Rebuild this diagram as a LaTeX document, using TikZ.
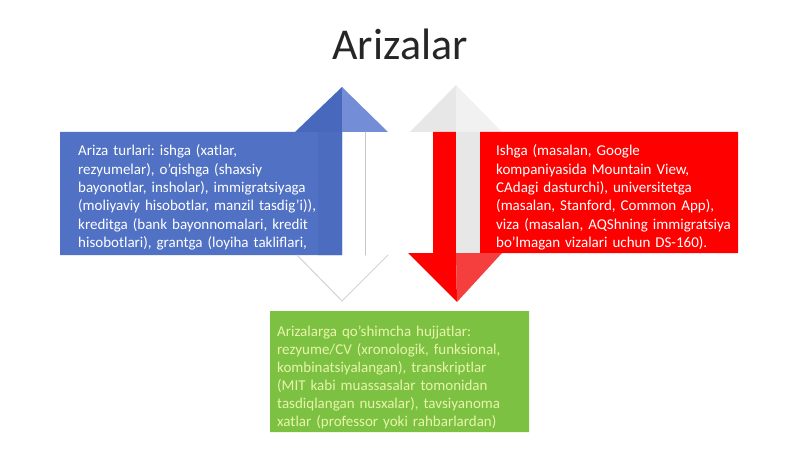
\documentclass[tikz,border=0pt]{standalone}
\usepackage{fontspec}
\setmainfont{Carlito}
\usepackage{tkz-euclide}
\frenchspacing

\definecolor{azul}{RGB}{80,113,196}
\definecolor{azulOsc}{RGB}{72,104,190}
\definecolor{azulBand}{RGB}{76,108,192}
\definecolor{azulCla}{RGB}{115,142,214}
\definecolor{rojo}{RGB}{255,0,0}
\definecolor{rojoCla}{RGB}{245,62,62}
\definecolor{gris}{RGB}{231,231,231}
\definecolor{grisCla}{RGB}{241,241,241}
\definecolor{verde}{RGB}{125,193,67}
\definecolor{verdeTxt}{RGB}{230,245,170}
\definecolor{titulo}{RGB}{38,38,38}

\tikzset{texto/.style={anchor=base west,inner sep=0pt,text=white,
  font=\fontsize{15}{18.3}\selectfont,text width=280pt,align=left}}

\begin{document}
\begin{tikzpicture}[x=1pt,y=-1pt]
%\tkzInit[xmax=800,ymax=449] %\tkzClip[space=.5]
\useasboundingbox (0,0) rectangle (800,449);

\node[font=\fontsize{44}{50}\selectfont,text=titulo,anchor=base] (titulo) at (400,60) {Arizalar};

% flecha azul
\tkzDefPoint(295,132){A}
\tkzDefPoint(342,87){B}
\tkzDefPoint(388,132){C}
\tkzDefPoint(342,132){D}
\tkzDefPoint(365,132){E}
\tkzDefPoint(365,255){F}
\tkzDefPoint(342,255){G}
\tkzDefPoint(297,255){H}
\tkzDefPoint(342,301){I}
\tkzDefPoint(388,255){J}
\tkzDefPoint(60,132){K}
\tkzDefPoint(60,255){L}
\tkzDefPoint(318,132){M}
\tkzDefPoint(318,255){N}

\tkzFillPolygon[color=azulOsc](A,B,D)
\tkzFillPolygon[color=azulCla](B,C,D)
\tkzFillPolygon[color=azul](K,D,G,L)
\tkzFillPolygon[color=azulBand](M,D,G,N)
\tkzDrawSegment[color=gray!45,line width=1pt](E,F)
  \tkzDrawSegments[color=gray!35,line width=1pt](H,I I,J)

% flecha roja
\tkzDefPoint(410,132){P}
\tkzDefPoint(456,85){Q}
\tkzDefPoint(502,132){R}
\tkzDefPoint(456,132){S}
\tkzDefPoint(433,132){T}
\tkzDefPoint(433,253){U}
\tkzDefPoint(456,253){V}
\tkzDefPoint(480,132){W}
\tkzDefPoint(480,253){X}
\tkzDefPoint(738,132){Y}
\tkzDefPoint(738,253){Z}
\tkzDefPoint(408,253){O1}
\tkzDefPoint(457,302){O2}
\tkzDefPoint(502,253){O3}

\tkzFillPolygon[color=gris](P,Q,S)
\tkzFillPolygon[color=grisCla](Q,R,S)
\tkzFillPolygon[color=rojo](T,S,V,U)
\tkzFillPolygon[color=gris](S,W,X,V)
\tkzFillPolygon[color=rojo](W,Y,Z,X)
\tkzFillPolygon[color=rojo](O1,O2,V)
\tkzFillPolygon[color=rojoCla](V,O2,O3)

% caja verde
\tkzDefPoint(270,311){G1}
\tkzDefPoint(529,311){G2}
\tkzDefPoint(529,432){G3}
\tkzDefPoint(270,432){G4}
\tkzFillPolygon[color=verde](G1,G2,G3,G4)

\node[texto] (tipos) at (78,156) {Ariza turlari: ishga (xatlar,\\
rezyumelar), o'qishga (shaxsiy\\
bayonotlar, insholar), immigratsiyaga\\
(moliyaviy hisobotlar, manzil tasdig'i)),\\
kreditga (bank bayonnomalari, kredit\\
hisobotlari), grantga (loyiha takliflari,};

\node[texto] (ejemplos) at (496,156) {Ishga (masalan, Google\\
kompaniyasida Mountain View,\\
CAdagi dasturchi), universitetga\\
(masalan, Stanford, Common App),\\
viza (masalan, AQShning immigratsiya\\
bo'lmagan vizalari uchun DS-160).};

\node[texto,text=verdeTxt,font=\fontsize{15}{18}\selectfont] (hujjatlar) at (277,336) {Arizalarga qo'shimcha hujjatlar:\\
rezyume/CV (xronologik, funksional,\\
kombinatsiyalangan), transkriptlar\\
(MIT kabi muassasalar tomonidan\\
tasdiqlangan nusxalar), tavsiyanoma\\
xatlar (professor yoki rahbarlardan)};

\end{tikzpicture}
\end{document}
